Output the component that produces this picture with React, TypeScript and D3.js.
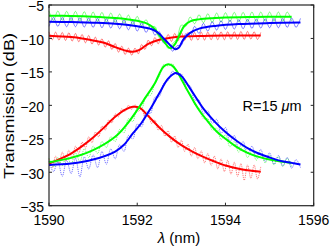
import React from "react";
import * as d3 from "d3";

// ---------- axis ticks ----------
const xTicks = [1590, 1592, 1594, 1596];
const yTicks = [-5, -10, -15, -20, -25, -30, -35];

// ---------- fitted curves (λ in nm, transmission in dB) ----------
const redThroughLambda = [1590, 1590.5, 1590.75, 1591, 1591.25, 1591.5, 1591.75, 1591.9, 1592.05, 1592.25, 1592.5, 1592.75, 1593, 1593.5, 1594, 1594.8];
const redThroughFit = [-9.6, -9.8, -10.0, -10.3, -10.65, -11.3, -11.85, -12.0, -11.7, -10.8, -10.2, -9.9, -9.72, -9.62, -9.57, -9.55];

const greenThroughLambda = [1590, 1590.5, 1591, 1591.5, 1591.8, 1592, 1592.2, 1592.35, 1592.5, 1592.62, 1592.75, 1592.87, 1592.97, 1593.07, 1593.2, 1593.4, 1593.7, 1594, 1594.5, 1595, 1595.5];
const greenThroughFit = [-6.6, -6.65, -6.76, -6.95, -7.15, -7.35, -7.7, -8.3, -9.5, -10.6, -11.45, -10.7, -9.3, -8.1, -7.45, -7.15, -6.97, -6.88, -6.8, -6.76, -6.74];

const blueThroughLambda = [1590, 1590.5, 1591, 1591.5, 1591.8, 1592.1, 1592.36, 1592.5, 1592.6, 1592.7, 1592.78, 1592.86, 1592.94, 1593.04, 1593.19, 1593.42, 1593.8, 1594.3, 1595, 1595.7];
const blueThroughFit = [-7.5, -7.55, -7.65, -7.8, -8.0, -8.3, -8.7, -9.3, -10.0, -10.7, -11.2, -11.6, -11.4, -10.2, -9.2, -8.5, -8.1, -7.85, -7.7, -7.62];

const redDropLambda = [1590, 1590.25, 1590.5, 1590.75, 1591, 1591.25, 1591.5, 1591.75, 1591.9, 1592.05, 1592.25, 1592.5, 1592.75, 1593, 1593.25, 1593.5, 1593.75, 1594, 1594.25, 1594.5, 1594.8];
const redDropFit = [-28.7, -28.0, -27.2, -26.1, -24.8, -23.3, -21.7, -20.55, -20.22, -20.35, -21.6, -23.3, -24.75, -25.95, -26.9, -27.7, -28.4, -29.0, -29.4, -29.7, -29.92];

const greenDropLambda = [1590, 1590.5, 1591, 1591.5, 1591.75, 1592, 1592.2, 1592.4, 1592.5, 1592.6, 1592.7, 1592.8, 1592.9, 1593, 1593.2, 1593.4, 1593.6, 1593.8, 1594, 1594.25, 1594.5, 1594.75, 1595, 1595.25, 1595.5];
const greenDropFit = [-28.5, -27.85, -26.7, -24.7, -22.95, -20.7, -18.7, -16.7, -15.3, -14.2, -13.85, -14.1, -14.9, -16.1, -18.5, -20.7, -22.4, -23.9, -25.0, -26.2, -27.1, -27.7, -28.1, -28.4, -28.6];

const blueDropLambda = [1590, 1590.5, 1591, 1591.5, 1591.7, 1591.9, 1592.1, 1592.3, 1592.5, 1592.7, 1592.87, 1593, 1593.2, 1593.5, 1593.75, 1594, 1594.25, 1594.5, 1594.75, 1595, 1595.25, 1595.5, 1595.7];
const blueDropFit = [-28.9, -28.7, -28.1, -26.9, -25.9, -24.2, -22.6, -20.5, -18.2, -16.0, -15.15, -15.6, -17.5, -20.5, -22.4, -24.0, -25.3, -26.4, -27.2, -27.8, -28.3, -28.6, -28.85];

// ---------- measured spectra (uniformly sampled scans) ----------
const redThroughScan = [1590, 1594.8];
const redThroughMeas = [-9.0, -10.2, -9.05, -10.25, -9.1, -10.3, -9.15, -10.4, -9.25, -10.5, -9.4, -10.65, -9.55, -10.85, -9.8, -11.0, -10.05, -11.3, -10.35, -11.65, -10.75, -12.05, -11.15, -12.4, -11.45, -12.5, -11.45, -12.3, -10.9, -11.65, -10.25, -11.1, -9.85, -10.8, -9.6, -10.6, -9.4, -10.45, -9.25, -10.35, -9.15, -10.3, -9.1, -10.3, -9.1, -10.25, -9.05, -10.25, -9.05, -10.2, -9.05, -10.2, -9.0, -10.2, -9.0, -10.15, -9.0, -10.15, -8.95, -10.15, -8.95, -10.1, -9.0, -10.15, -9.1];

const greenThroughScan = [1590, 1595.5];
const greenThroughMeas = [-5.9, -7.3, -5.9, -7.3, -5.95, -7.35, -5.95, -7.4, -6.0, -7.45, -6.05, -7.45, -6.1, -7.55, -6.2, -7.6, -6.35, -7.75, -6.5, -7.9, -6.7, -8.1, -7.2, -8.5, -8.2, -9.9, -10.0, -11.5, -10.8, -10.0, -8.0, -8.2, -6.8, -7.8, -6.45, -7.65, -6.3, -7.6, -6.2, -7.55, -6.15, -7.5, -6.1, -7.5, -6.1, -7.45, -6.05, -7.45, -6.05, -7.45, -6.05, -7.45, -6.05, -7.45, -6.05, -7.4];

const blueThroughScan = [1590, 1595.7];
const blueThroughMeas = [-8.2, -6.85, -8.2, -6.85, -8.25, -6.85, -8.25, -6.9, -8.3, -6.95, -8.35, -7.0, -8.4, -7.05, -8.45, -7.1, -8.55, -7.25, -8.7, -7.4, -8.9, -7.65, -9.1, -8.05, -9.5, -9.0, -10.7, -10.6, -11.9, -11.1, -11.0, -9.3, -9.8, -8.2, -9.25, -7.75, -8.9, -7.5, -8.75, -7.35, -8.65, -7.25, -8.6, -7.2, -8.55, -7.15, -8.5, -7.1, -8.45, -7.05, -8.4, -7.0, -8.4, -7.0, -8.35, -6.95, -8.35, -7.0];

const redDropScan = [1590, 1594.8];
const redDropMeas = [-28.0, -29.3, -27.6, -28.8, -27.0, -28.3, -26.7, -27.9, -26.1, -27.2, -25.5, -26.4, -24.7, -25.6, -24.0, -24.7, -23.1, -23.7, -22.2, -22.6, -21.3, -21.7, -20.5, -20.9, -20.0, -20.6, -19.9, -20.9, -20.5, -21.7, -21.4, -22.7, -22.2, -23.7, -23.0, -24.6, -23.8, -25.5, -24.6, -26.3, -25.2, -26.9, -25.8, -27.6, -26.3, -28.0, -26.8, -28.6, -27.2, -29.0, -27.6, -29.5, -28.0, -29.9, -28.2, -30.3, -28.5, -30.6, -28.7, -31.2, -28.9, -30.9, -28.9, -31.0, -29.2];

const greenDropScan = [1590, 1595.5];
const greenDropMeas = [-27.9, -29.2, -27.8, -29.0, -27.4, -28.8, -27.1, -28.4, -26.5, -27.8, -26.1, -27.2, -25.4, -26.3, -24.7, -25.4, -23.6, -24.1, -22.0, -22.4, -20.4, -20.5, -18.6, -18.5, -16.7, -15.6, -13.9, -14.1, -13.8, -15.2, -15.8, -17.6, -18.2, -19.9, -20.4, -22.0, -22.0, -23.7, -23.4, -25.1, -24.4, -26.2, -25.4, -27.0, -26.1, -27.8, -26.7, -28.2, -27.1, -28.6, -27.4, -28.9, -27.7, -29.1, -27.9, -29.2];

const blueDropScan = [1590, 1595.7];
const blueDropMeas = [-28.3, -29.9, -28.4, -30.6, -28.2, -30.2, -27.9, -30.7, -27.7, -29.5, -27.4, -29.3, -26.9, -28.8, -26.5, -28.0, -25.9, -26.9, -24.5, -25.0, -22.8, -23.2, -21.0, -21.2, -18.8, -18.7, -16.7, -16.3, -14.9, -15.4, -15.3, -16.9, -17.1, -19.2, -19.2, -21.2, -20.8, -22.7, -22.1, -24.2, -23.3, -25.4, -24.5, -26.4, -25.4, -27.2, -26.1, -27.8, -26.6, -28.4, -27.1, -28.8, -27.5, -29.1, -27.8, -29.4, -28.1, -29.3];

const RED = "#ff0000";
const GREEN = "#00ff00";
const BLUE = "#0000ff";

const W = 332;
const H = 247;
const L = 49, R = 313.7, T = 5, B = 205.7;
const FONT = "'Liberation Sans', Arial, Helvetica, sans-serif";
const AX = "#262626";

const x = d3.scaleLinear().domain([1590, 1596]).range([L, R]);
const y = d3.scaleLinear().domain([-35, -5]).range([B, T]);

const fitLine = d3
  .line<[number, number]>()
  .x((d) => x(d[0]))
  .y((d) => y(d[1]))
  .curve(d3.curveCatmullRom.alpha(0.5));

const measLine = d3
  .line<[number, number]>()
  .x((d) => x(d[0]))
  .y((d) => y(d[1]))
  .curve(d3.curveCatmullRom.alpha(0.5));

function zipFit(lam: number[], v: number[]): [number, number][] {
  return lam.map((l, i) => [l, v[i]] as [number, number]);
}

function scanPoints(scan: number[], v: number[]): [number, number][] {
  const idx = d3.scaleLinear().domain([0, v.length - 1]).range(scan);
  return v.map((val, i) => [idx(i), val] as [number, number]);
}

const minus = (n: number) => (n < 0 ? "\u2212" + Math.abs(n) : String(n));

export default function App() {
  const measTop = [
    { d: scanPoints(redThroughScan, redThroughMeas), c: RED },
    { d: scanPoints(greenThroughScan, greenThroughMeas), c: GREEN },
    { d: scanPoints(blueThroughScan, blueThroughMeas), c: BLUE },
  ];
  const measDrop = [
    { d: scanPoints(redDropScan, redDropMeas), c: RED },
    { d: scanPoints(greenDropScan, greenDropMeas), c: GREEN },
    { d: scanPoints(blueDropScan, blueDropMeas), c: BLUE },
  ];
  const fits = [
    { d: zipFit(redThroughLambda, redThroughFit), c: RED },
    { d: zipFit(redDropLambda, redDropFit), c: RED },
    { d: zipFit(greenThroughLambda, greenThroughFit), c: GREEN },
    { d: zipFit(greenDropLambda, greenDropFit), c: GREEN },
    { d: zipFit(blueThroughLambda, blueThroughFit), c: BLUE },
    { d: zipFit(blueDropLambda, blueDropFit), c: BLUE },
  ];
  const tl = 3;
  return (
    <svg
      width={W}
      height={H}
      style={{ position: "absolute", left: 0, top: 0, background: "#fff" }}
      fontFamily={FONT}
    >
      <rect x={0} y={0} width={W} height={H} fill="#fff" />
      {measTop.map((m, i) => (
        <path key={"mt" + i} d={measLine(m.d) || ""} fill="none" stroke={m.c} strokeWidth={0.65} opacity={0.75} />
      ))}
      {measDrop.map((m, i) => (
        <path key={"md" + i} d={measLine(m.d) || ""} fill="none" stroke={m.c} strokeWidth={0.75} strokeDasharray="1.2 0.9" opacity={0.7} />
      ))}
      {fits.map((f, i) => (
        <path key={"f" + i} d={fitLine(f.d) || ""} fill="none" stroke={f.c} strokeWidth={2} />
      ))}
      <rect x={L} y={T} width={R - L} height={B - T} fill="none" stroke={AX} strokeWidth={1.2} />
      {xTicks.map((t) => (
        <g key={"xt" + t}>
          <line x1={x(t)} x2={x(t)} y1={B} y2={B - tl} stroke={AX} strokeWidth={1} />
          <line x1={x(t)} x2={x(t)} y1={T} y2={T + tl} stroke={AX} strokeWidth={1} />
          <text x={x(t)} y={224.5} textAnchor="middle" fontSize={14} fill="#000">
            {t}
          </text>
        </g>
      ))}
      {yTicks.map((t) => (
        <g key={"yt" + t}>
          <line x1={L} x2={L + tl} y1={y(t)} y2={y(t)} stroke={AX} strokeWidth={1} />
          <line x1={R} x2={R - tl} y1={y(t)} y2={y(t)} stroke={AX} strokeWidth={1} />
          <text x={44} y={y(t)} dy="0.45em" textAnchor="end" fontSize={14} fill="#000">
            {minus(t)}
          </text>
        </g>
      ))}
      <text
        transform={`translate(13.5, 106) rotate(-90)`}
        textAnchor="middle"
        fontSize={15}
        textLength={146}
        lengthAdjust="spacingAndGlyphs"
        fill="#000"
      >
        Transmission (dB)
      </text>
      <text x={179} y={243} textAnchor="middle" fontSize={15} fill="#000">
        <tspan fontStyle="italic">λ</tspan> (nm)
      </text>
      <text x={242.5} y={110.7} fontSize={14.5} fill="#000">
        R=15 <tspan fontStyle="italic">μ</tspan>m
      </text>
    </svg>
  );
}
